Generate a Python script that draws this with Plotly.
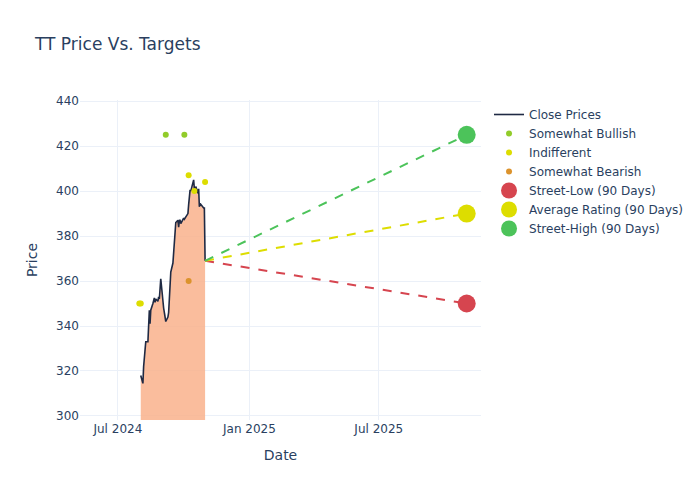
import pandas as pd
import plotly.graph_objects as go

# close prices (business days)
close_dates = pd.bdate_range("2024-08-02", "2024-10-31", freq="C",
                             holidays=["2024-09-02"]).strftime("%Y-%m-%d").tolist()
close_prices = [318, 314.5, 322, 326, 332, 333, 333, 340, 347, 341,
                347, 350, 352, 352.5, 350.5, 352, 351, 353, 352, 356,
                361, 348, 346, 346, 342, 344, 346, 352, 360, 364,
                368, 373, 374, 383, 386, 387, 384, 387, 387, 385.5,
                387, 388, 387.5, 388, 388, 390, 394, 397, 400.5, 400,
                403, 405, 401, 400, 402, 399, 401, 393, 394.5, 394,
                393, 392.5, 392.5, 369]

bullish_dates = ["2024-09-06", "2024-10-02"]
bullish_prices = [425, 425]
indiff_dates = ["2024-07-31", "2024-08-02", "2024-10-08", "2024-10-16", "2024-10-31"]
indiff_prices = [350, 350, 407, 400, 404]
bearish_dates = ["2024-10-08"]
bearish_prices = [360]

target_date = "2025-11-01"
street_low = 350
avg_rating = 390
street_high = 425

last_date = close_dates[-1]
last_price = close_prices[-1]

fig = go.Figure()

# shaded area under the close line
fig.add_trace(go.Scatter(
    x=close_dates, y=close_prices, mode="none", showlegend=False,
    fill="tozeroy", fillcolor="rgba(249,178,140,0.85)",
))
fig.add_trace(go.Scatter(
    x=close_dates, y=close_prices, mode="lines", name="Close Prices",
    line=dict(color="#1f2a44", width=1.6),
))

fig.add_trace(go.Scatter(x=bullish_dates, y=bullish_prices, mode="markers",
                         name="Somewhat Bullish", marker=dict(color="#92cc2a", size=6)))
fig.add_trace(go.Scatter(x=indiff_dates, y=indiff_prices, mode="markers",
                         name="Indifferent", marker=dict(color="#dddd00", size=6)))
fig.add_trace(go.Scatter(x=bearish_dates, y=bearish_prices, mode="markers",
                         name="Somewhat Bearish", marker=dict(color="#dc932c", size=6)))

targets = [
    ("Street-Low (90 Days)", street_low, "#d6454f"),
    ("Average Rating (90 Days)", avg_rating, "#dddd00"),
    ("Street-High (90 Days)", street_high, "#4cc35a"),
]
for name, val, col in targets:
    fig.add_trace(go.Scatter(
        x=[last_date, target_date], y=[last_price, val], mode="lines",
        line=dict(color=col, width=2, dash="dash"), showlegend=False,
    ))
    fig.add_trace(go.Scatter(
        x=[target_date], y=[val], mode="markers", name=name,
        marker=dict(color=col, size=18),
    ))

fig.update_layout(
    template="plotly_white",
    width=700, height=500,
    font=dict(family="Verdana, DejaVu Sans, sans-serif"),
    title=dict(text="TT Price Vs. Targets"),
    xaxis=dict(title="Date", range=["2024-05-09", "2025-11-21"],
               dtick="M6", tickformat="%b %Y"),
    yaxis=dict(title="Price", range=[298.2, 440.5]),
)

fig.write_html("out.html", config={"displayModeBar": False},
               post_script="document.body.style.margin='0';")
